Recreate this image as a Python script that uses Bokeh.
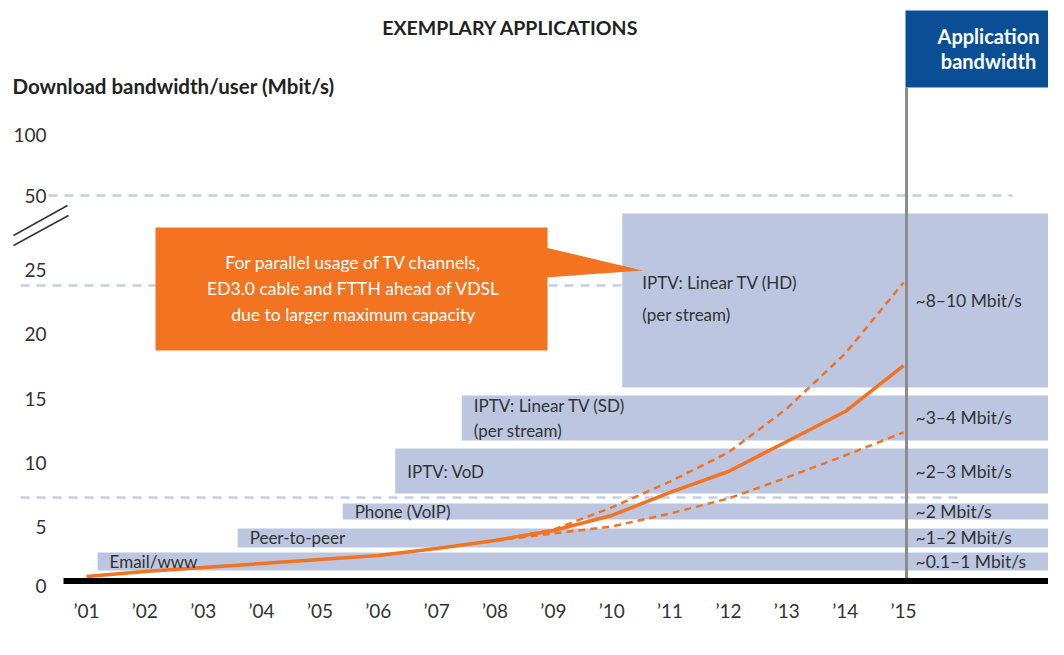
from bokeh.plotting import figure
from bokeh.models import Range1d, FixedTicker, CustomJSTickFormatter, ColumnDataSource, Label
from bokeh.core.properties import value
from bokeh.embed import file_html
from bokeh.resources import INLINE

# ---------------- data ----------------
years = [2001, 2002, 2003, 2004, 2005, 2006, 2007, 2008, 2009, 2010, 2011, 2012, 2013, 2014, 2015]
year_labels = ["\u201901", "\u201902", "\u201903", "\u201904", "\u201905", "\u201906", "\u201907", "\u201908",
               "\u201909", "\u201910", "\u201911", "\u201912", "\u201913", "\u201914", "\u201915"]
bw_trend = [0.35, 0.74, 1.05, 1.36, 1.67, 1.98, 2.53, 3.15, 3.93, 5.1, 6.89, 8.52, 10.86, 13.19, 16.77]
fc_years = [2008, 2009, 2010, 2011, 2012, 2013, 2014, 2015]
bw_upper = [3.15, 4.0, 5.72, 7.74, 10.0, 13.42, 17.7, 23.23]
bw_lower = [3.15, 3.7, 4.24, 5.25, 6.42, 8.05, 9.77, 11.56]

apps = ["Email/www", "Peer-to-peer", "Phone (VoIP)", "IPTV: VoD",
        "IPTV: Linear TV (SD)\n(per stream)", "IPTV: Linear TV (HD)\n(per stream)"]
app_start = [2001.19, 2003.59, 2005.39, 2006.29, 2007.43, 2010.18]
app_low = [0.82, 2.61, 4.79, 6.81, 10.93, 15.06]
app_high = [2.22, 4.09, 6.03, 10.31, 14.44, 28.6]
app_rate = ["~0.1\u20131 Mbit/s", "~1\u20132 Mbit/s", "~2 Mbit/s", "~2\u20133 Mbit/s",
            "~3\u20134 Mbit/s", "~8\u201310 Mbit/s"]

y_tick_labels = ["0", "5", "10", "15", "20", "25", "50", "100"]
ref_levels = [30.0, 23.0, 6.5]

callout_text = "For parallel usage of TV channels,\nED3.0 cable and FTTH ahead of VDSL\ndue to larger maximum capacity"

# ---------------- styling / layout helpers ----------------
FONT = "Lato"
ORANGE = "#f37321"
BAR = "#bcc6e0"
TXT = "#333333"
NAVY = "#0a4f96"


def xd(px):  # picture pixel -> year coordinate
    return 2001 + (px - 86) / 58.36


def yd(py):  # picture pixel -> value coordinate
    return (580.5 - py) / 12.85


def axis_pos(lbl):
    v = float(lbl)
    if v == 0:
        return -0.4
    if v <= 25:
        return v - 0.8
    return 30.0 + (v - 50) / 50 * 4.7


p = figure(width=1048, height=639, output_backend="svg", toolbar_location=None,
           x_range=Range1d(xd(0), xd(1048)), y_range=Range1d(yd(598), yd(0)),
           min_border_left=0, min_border_right=0, min_border_top=0, min_border_bottom=41)
p.grid.visible = False
p.outline_line_color = None
p.background_fill_color = "white"

# x axis
p.xaxis.ticker = FixedTicker(ticks=years)
p.xaxis.formatter = CustomJSTickFormatter(args=dict(lab=dict(zip([str(y) for y in years], year_labels))),
                                          code="return lab[String(Math.round(tick))] || '';")
p.xaxis.axis_line_color = None
p.xaxis.major_tick_line_color = None
p.xaxis.minor_tick_line_color = None
p.xaxis.major_tick_out = 0
p.xaxis.major_tick_in = 0
p.xaxis.major_label_standoff = 0
p.xaxis.major_label_text_font = FONT
p.xaxis.major_label_text_font_size = "19px"
p.xaxis.major_label_text_color = TXT

# y axis (inside the frame, broken scale)
ypos = [axis_pos(l) for l in y_tick_labels]
p.yaxis.ticker = FixedTicker(ticks=ypos)
p.yaxis.formatter = CustomJSTickFormatter(
    args=dict(lab={f"{a:.2f}": l for a, l in zip(ypos, y_tick_labels)}),
    code="return lab[tick.toFixed(2)] || '';")
p.yaxis.fixed_location = xd(60)
p.yaxis.axis_line_color = None
p.yaxis.major_tick_line_color = None
p.yaxis.minor_tick_line_color = None
p.yaxis.major_tick_out = 0
p.yaxis.major_tick_in = 0
p.yaxis.major_label_standoff = 14
p.yaxis.major_label_text_font = FONT
p.yaxis.major_label_text_font_size = "19px"
p.yaxis.major_label_text_color = TXT

# reference dashed lines
p.segment(x0=[xd(48), xd(20), xd(20)], x1=[xd(1012), xd(640), xd(960)], y0=ref_levels, y1=ref_levels,
          line_color="#c5cee6", line_width=2.5, line_dash="9 7")

# application bands
p.quad(left=app_start, right=[xd(1064)] * len(apps), bottom=app_low, top=app_high,
       fill_color=BAR, line_color=None)

# header box
p.quad(left=[xd(905)], right=[xd(1064)], top=[yd(10)], bottom=[yd(87)], fill_color=NAVY, line_color=None)
p.text(x=[xd(988)], y=[yd(48)], text=["Application\nbandwidth"], text_align="center",
       text_baseline="middle", text_color="white", text_font=value(FONT), text_font_style="bold",
       text_font_size="20px", text_line_height=1.05)

# vertical separator
p.segment(x0=[xd(906)], x1=[xd(906)], y0=[0], y1=[yd(87)], line_color="#8c8c8c", line_width=3)

# trend lines
p.line(fc_years, bw_upper, line_color=ORANGE, line_width=2.5, line_dash="7 5")
p.line(fc_years, bw_lower, line_color=ORANGE, line_width=2.5, line_dash="7 5")
p.line(years, bw_trend, line_color=ORANGE, line_width=3.5)

# baseline and axis break
p.segment(x0=[xd(63)], x1=[xd(1064)], y0=[0], y1=[0], line_color="black", line_width=6)
p.segment(x0=[xd(13), xd(13)], x1=[xd(67), xd(68)], y0=[yd(235), yd(245)], y1=[yd(205), yd(215)],
          line_color="#333333", line_width=1.5)

# band labels
mid = [(a + b) / 2 for a, b in zip(app_low, app_high)]
src1 = ColumnDataSource(dict(x=app_start[:5], y=mid[:5], t=apps[:5]))
p.text(x="x", y="y", text="t", source=src1, x_offset=12, text_baseline="middle", text_align="left",
       text_color=TXT, text_font=value(FONT), text_font_size="17px", text_line_height=1.15)
src2 = ColumnDataSource(dict(x=app_start[5:], y=[yd(298)], t=apps[5:]))
p.text(x="x", y="y", text="t", source=src2, x_offset=20, text_baseline="middle", text_align="left",
       text_color=TXT, text_font=value(FONT), text_font_size="17px", text_line_height=1.5)
p.text(x=[xd(906)] * len(apps), y=mid, text=app_rate, x_offset=9, text_baseline="middle",
       text_align="left", text_color=TXT, text_font=value(FONT), text_font_size="17.5px")

# callout
p.quad(left=[xd(155)], right=[xd(547)], top=[yd(227)], bottom=[yd(350)], fill_color=ORANGE, line_color=None)
p.patch(x=[xd(545), xd(642), xd(545)], y=[yd(247), yd(270), yd(277)], fill_color=ORANGE, line_color=None)
p.text(x=[xd(353)], y=[yd(288)], text=[callout_text], text_align="center", text_baseline="middle",
       text_color="white", text_font=value(FONT), text_font_size="17.5px", text_line_height=1.23)

# titles
p.text(x=[xd(510)], y=[yd(27)], text=["EXEMPLARY APPLICATIONS"], text_align="center", text_baseline="middle",
       text_color="#222222", text_font=value(FONT), text_font_style="bold", text_font_size="19.5px")
p.text(x=[xd(12)], y=[yd(85)], text=["Download bandwidth/user (Mbit/s)"], text_align="left",
       text_baseline="middle", text_color="#222222", text_font=value(FONT), text_font_style="bold",
       text_font_size="20.5px")
p.add_layout(Label(x=xd(475), y=yd(628), text="Year", text_align="center", text_baseline="middle",
                   text_color="#222222", text_font=FONT, text_font_style="bold", text_font_size="19px"))

open("out.html", "w").write(file_html(p, INLINE))
